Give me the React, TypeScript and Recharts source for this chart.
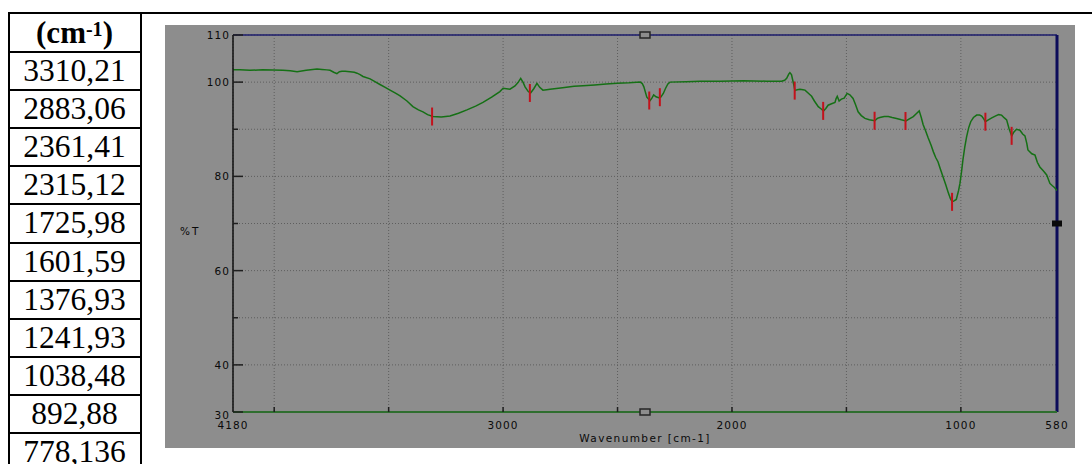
import React from 'react'
import {
  ComposedChart, Line, Scatter, XAxis, YAxis, CartesianGrid, ReferenceLine, ReferenceDot, Label
} from 'recharts'

// spectrum: wavenumber [cm-1] -> %T
const wavenumbers = [
  4180, 4150, 4106, 4050, 3962, 3930, 3900, 3860, 3813, 3791, 3770, 3756, 3740, 3726, 3715, 3704,
  3690, 3669, 3650, 3638, 3625, 3612, 3581, 3560, 3538, 3515, 3494, 3472, 3450, 3420, 3394, 3370,
  3350, 3330, 3306, 3270, 3232, 3195, 3158, 3120, 3088, 3050, 3014, 3000, 2985, 2970, 2948, 2935,
  2923, 2912, 2904, 2890, 2880, 2866, 2852, 2840, 2826, 2810, 2795, 2740, 2690, 2651, 2600, 2550,
  2502, 2450, 2400, 2392, 2385, 2372, 2358, 2350, 2342, 2332, 2320, 2311, 2300, 2290, 2280, 2271,
  2200, 2140, 2050, 1950, 1850, 1783, 1770, 1761, 1752, 1747, 1740, 1735, 1729, 1725, 1715, 1703,
  1690, 1681, 1665, 1652, 1640, 1623, 1610, 1600, 1590, 1580, 1565, 1550, 1545, 1540, 1532, 1522,
  1510, 1497, 1485, 1471, 1460, 1449, 1435, 1419, 1400, 1376, 1365, 1354, 1335, 1317, 1300, 1281,
  1260, 1240, 1225, 1208, 1195, 1182, 1173, 1165, 1155, 1143, 1130, 1120, 1110, 1100, 1090, 1078,
  1066, 1056, 1046, 1038, 1030, 1020, 1010, 1004, 997, 991, 983, 975, 966, 957, 945, 931,
  918, 909, 900, 893, 880, 865, 850, 835, 822, 810, 800, 790, 778, 770, 757, 742,
  730, 720, 712, 707, 690, 676, 666, 655, 640, 625, 611, 600, 590, 582, 580,
]
const transmittance = [
  102.6, 102.6, 102.5, 102.6, 102.5, 102.4, 102.2, 102.5, 102.8, 102.7, 102.6, 102.5, 102.1, 101.8, 102.2, 102.3,
  102.3, 102.2, 102.1, 101.9, 101.6, 101.2, 100.7, 100.1, 99.5, 98.9, 98.3, 97.7, 97.1, 96.0, 94.8, 94.1,
  93.7, 93.1, 92.7, 92.6, 92.8, 93.4, 94.1, 94.9, 95.7, 96.8, 98.0, 98.7, 98.6, 98.5, 99.2, 99.9,
  100.8, 99.9, 99.0, 98.0, 97.7, 98.6, 99.75, 98.9, 98.3, 98.4, 98.5, 98.8, 99.1, 99.25, 99.4, 99.6,
  99.75, 99.85, 100.0, 99.7, 99.0, 96.8, 96.1, 96.6, 97.3, 96.9, 96.7, 96.8, 97.6, 98.7, 99.6, 100.0,
  100.1, 100.2, 100.2, 100.3, 100.2, 100.2, 100.4, 100.8, 101.7, 102.0, 101.6, 100.5, 99.2, 98.2, 98.4, 98.5,
  98.4, 98.3, 97.6, 97.0, 96.0, 94.8, 94.3, 93.9, 94.4, 95.1, 95.4, 95.7, 96.5, 97.0, 96.0, 96.4,
  96.6, 97.6, 97.3, 96.55, 95.2, 93.7, 92.9, 92.3, 92.0, 91.8, 92.3, 92.5, 92.7, 92.7, 92.5, 92.3,
  92.0, 91.75, 92.2, 92.7, 93.3, 93.9, 92.5, 91.0, 89.8, 88.2, 86.6, 85.2, 84.0, 83.1, 81.6, 79.9,
  78.2, 76.7, 75.3, 74.6, 74.8, 75.1, 77.0, 78.5, 81.0, 83.5, 86.2, 88.4, 90.3, 91.6, 92.5, 93.0,
  93.0, 92.8, 92.2, 91.6, 92.0, 92.4, 92.8, 93.1, 93.0, 92.4, 92.0, 90.2, 88.6, 89.3, 90.0, 89.8,
  89.0, 88.6, 87.0, 85.6, 84.8, 84.5, 83.0, 82.0, 81.2, 80.3, 78.5, 78.0, 77.6, 77.1, 77.0,
]

// picked peaks (the table on the left)
const peakLabels = ['3310,21', '2883,06', '2361,41', '2315,12', '1725,98', '1601,59', '1376,93', '1241,93', '1038,48', '892,88', '778,136']
const peakWavenumbers = [3310.21, 2883.06, 2361.41, 2315.12, 1725.98, 1601.59, 1376.93, 1241.93, 1038.48, 892.88, 778.136]
const peakTransmittance = [92.7, 97.7, 96.1, 96.8, 98.2, 93.9, 91.8, 91.75, 74.6, 91.6, 88.6]

const xTicks = [4180, 4000, 3500, 3000, 2500, 2000, 1500, 1000, 580]
const xTickLabels = [4180, 3000, 2000, 1000, 580]
const yTicks = [30, 40, 50, 60, 70, 80, 90, 100, 110]
const yTickLabels = [110, 100, 80, 60, 40, 30]

const spectrum = wavenumbers.map((wn, i) => ({ wn, t: transmittance[i] }))
const peaks = peakWavenumbers.map((wn, i) => ({ wn, t: peakTransmittance[i] }))

const tickFont = { fontFamily: '"DejaVu Sans", sans-serif', fontSize: 10.5, letterSpacing: 1.1, fill: '#0a0a0a' }

function XTick({ x, y, payload }: any) {
  const v = payload.value
  const edge = v === 4180 || v === 580
  return (
    <g>
      {!edge && <line x1={x} x2={x} y1={y - 5} y2={y} stroke="#1e1e1e" strokeWidth={1.5} />}
      {xTickLabels.includes(v) && (
        <text x={x} y={y + 17} textAnchor="middle" style={tickFont}>{v}</text>
      )}
    </g>
  )
}

function YTick({ x, y, payload }: any) {
  const v = payload.value
  const labelled = yTickLabels.includes(v)
  return (
    <g>
      <line x1={x} x2={x + (labelled ? 10 : 5)} y1={y} y2={y} stroke="#1e1e1e" strokeWidth={1.5} />
      {labelled && (
        <text x={x - 3} y={y + (v === 30 ? 7 : 4)} textAnchor="end" style={tickFont}>{v}</text>
      )}
    </g>
  )
}

const PeakMark = ({ cx, cy }: any) => (
  <line x1={cx} x2={cx} y1={cy - 9} y2={cy + 9} stroke="#c3121c" strokeWidth={2} />
)

const CursorBox = ({ cx, cy }: any) => (
  <rect x={cx - 5} y={cy - 3} width={10} height={6} fill="#8d8d8d" stroke="#262626" strokeWidth={1.5} />
)

const EdgeBox = ({ cx, cy }: any) => (
  <rect x={cx - 5} y={cy - 3} width={10} height={6} fill="#0a0a0a" />
)

const line = (s: React.CSSProperties): React.CSSProperties => ({ position: 'absolute', background: '#000', ...s })

export default function App() {
  const rowTop = 52
  const rowH = 38.1
  return (
    <div style={{ position: 'absolute', left: 0, top: 0, width: 1092, height: 464, overflow: 'hidden', background: '#fff' }}>
      {/* table grid */}
      <div style={line({ left: 7.5, top: 12, width: 1092, height: 2 })} />
      <div style={line({ left: 7.5, top: 12, width: 2, height: 460 })} />
      <div style={line({ left: 139.5, top: 12, width: 2, height: 460 })} />
      {peakLabels.map((_, i) => (
        <div key={i} style={line({ left: 7.5, top: rowTop + i * rowH - 1, width: 134, height: 2 })} />
      ))}
      <div style={{
        position: 'absolute', left: 9, width: 131, top: 14, height: 38, lineHeight: '38px', textAlign: 'center',
        fontFamily: '"Liberation Serif", "Times New Roman", serif', fontWeight: 'bold', fontSize: 31, color: '#000'
      }}>
        (cm<sup style={{ fontSize: 20, verticalAlign: 'top', lineHeight: '30px' }}>-1</sup>)
      </div>
      {peakLabels.map((p, i) => (
        <div key={p} style={{
          position: 'absolute', left: 9, width: 131, top: rowTop + i * rowH + 1, height: rowH - 2,
          lineHeight: `${rowH - 2}px`, textAlign: 'center',
          fontFamily: '"Liberation Serif", "Times New Roman", serif', fontSize: 31.5, color: '#000'
        }}>{p}</div>
      ))}

      {/* spectrum panel */}
      <div style={{ position: 'absolute', left: 165, top: 25, width: 910, height: 423, background: '#8d8d8d' }}>
        <ComposedChart width={910} height={423} margin={{ top: 10, right: 18, bottom: 0, left: 0 }}>
          <CartesianGrid stroke="#5e5e5e" strokeDasharray="1 2" strokeWidth={1} />
          <XAxis
            type="number" dataKey="wn" domain={[580, 4180]} reversed ticks={xTicks} interval={0}
            height={36} tickSize={0} tickMargin={0} tick={<XTick />}
            axisLine={{ stroke: '#2f6e2f', strokeWidth: 2 }} allowDataOverflow
          >
            <Label value="Wavenumber [cm-1]" position="insideBottom" offset={6}
              style={{ ...tickFont, fontSize: 10.5, letterSpacing: 1.4 }} />
          </XAxis>
          <YAxis
            type="number" dataKey="t" domain={[30, 110]} ticks={yTicks} interval={0}
            width={68} tickSize={0} tickMargin={0} tick={<YTick />}
            axisLine={{ stroke: '#111', strokeWidth: 1.5 }} allowDataOverflow
          >
            <Label value="%T" position="insideLeft" offset={15} dy={8} style={{ ...tickFont, letterSpacing: 2 }} />
          </YAxis>
          <ReferenceLine y={110} stroke="#1c1c6c" strokeWidth={1.5} />
          <ReferenceLine x={580} stroke="#0c0c5a" strokeWidth={3} />
          <Line data={spectrum} dataKey="t" type="linear" stroke="#157015" strokeWidth={1.5}
            dot={false} activeDot={false} isAnimationActive={false} />
          <Scatter data={peaks} dataKey="t" shape={<PeakMark />} isAnimationActive={false} />
          <ReferenceDot x={2380} y={110} r={5} shape={<CursorBox />} ifOverflow="visible" />
          <ReferenceDot x={2380} y={30} r={5} shape={<CursorBox />} ifOverflow="visible" />
          <ReferenceDot x={580} y={70} r={5} shape={<EdgeBox />} ifOverflow="visible" />
        </ComposedChart>
      </div>
    </div>
  )
}
